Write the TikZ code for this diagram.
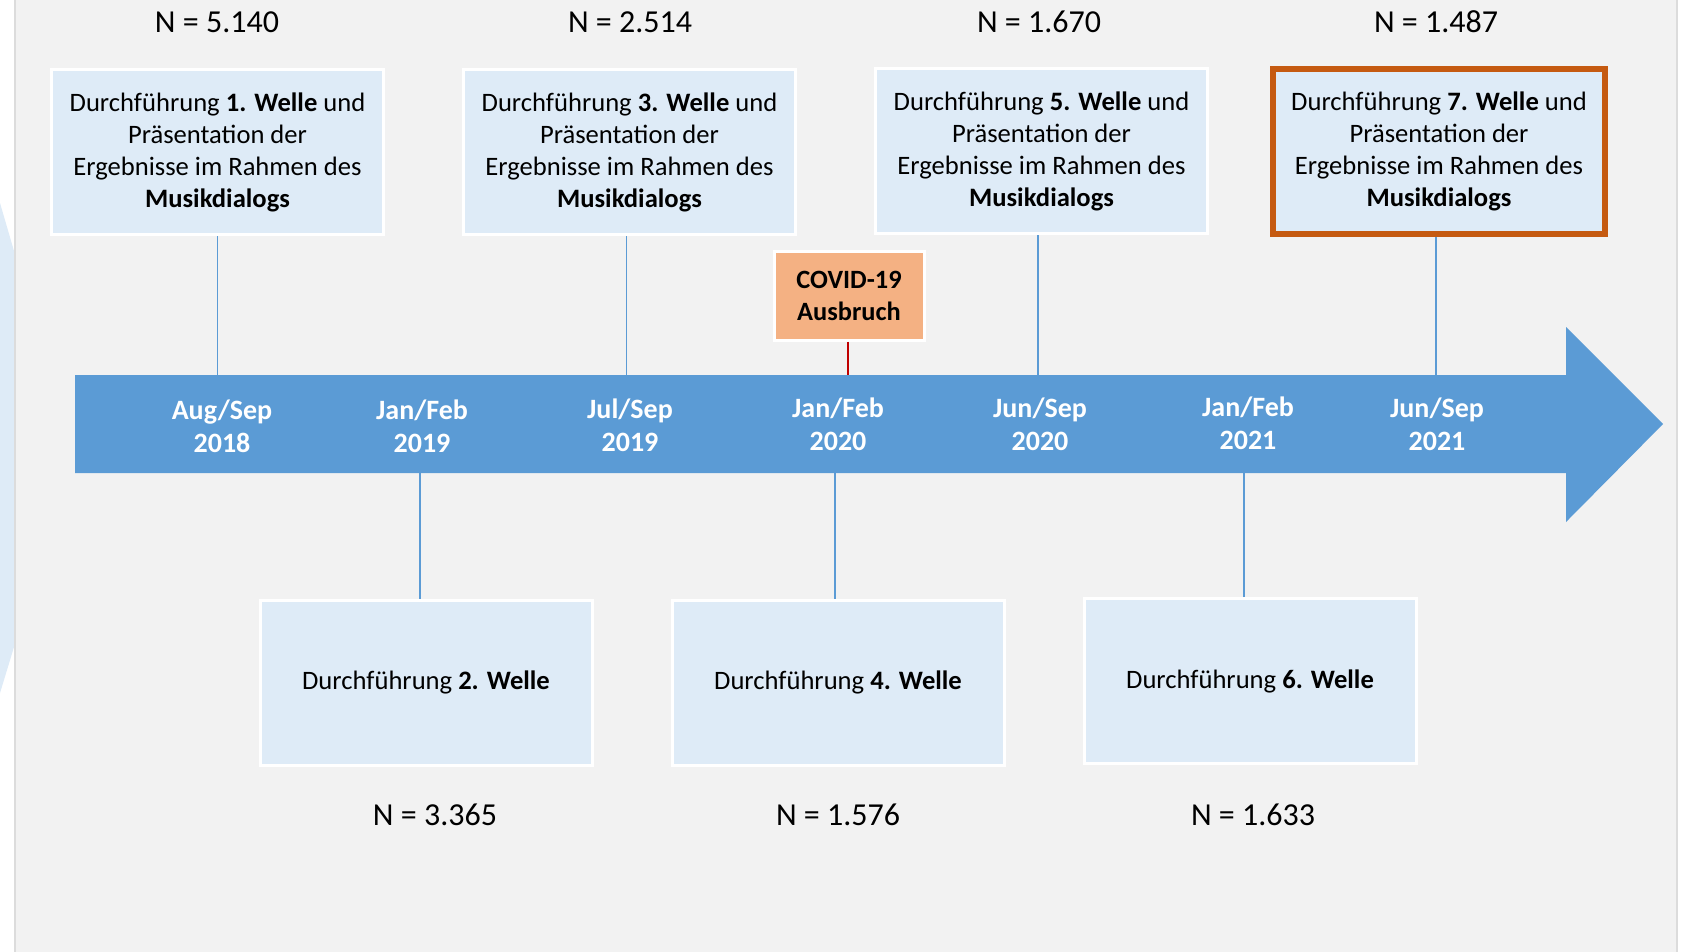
\documentclass[tikz,border=0pt]{standalone}
\usepackage{fontspec}
\setmainfont{Carlito}
\definecolor{panel}{HTML}{F2F2F2}
\definecolor{panelline}{HTML}{DCDCDC}
\definecolor{sideblue}{HTML}{DEEBF7}
\definecolor{arrowblue}{HTML}{5B9BD5}
\definecolor{boxblue}{HTML}{DEEBF7}
\definecolor{covid}{HTML}{F4B183}
\definecolor{highlight}{HTML}{C55A11}
\definecolor{covidline}{HTML}{C00000}
\begin{document}
\begin{tikzpicture}[x=1pt,y=-1pt,
  wave/.style={draw=white, line width=3pt, fill=boxblue, minimum width=332pt, minimum height=165pt,
    align=center, inner sep=0pt, font=\fontsize{26.6}{32}\selectfont},
  hiwave/.style={wave, draw=highlight, line width=6pt},
  covidbox/.style={draw=white, line width=3pt, fill=covid, minimum width=150pt, minimum height=89pt,
    align=center, inner sep=0pt, font=\fontsize{26.4}{32}\selectfont\bfseries},
  datelbl/.style={text=white, align=center, inner sep=0pt, font=\fontsize{28}{33}\selectfont\bfseries},
  nlbl/.style={inner sep=0pt, font=\fontsize{32}{36}\selectfont},
  conn/.style={draw=arrowblue, line width=1.5pt},
  redconn/.style={draw=covidline, line width=1.5pt}]
\useasboundingbox (0,0) rectangle (1688,951);
\fill[white] (0,0) rectangle (1688,951);
\fill[sideblue] (0,203) -- (14,251) -- (14,647) -- (0,693) -- cycle;
\filldraw[fill=panel, draw=panelline, line width=2pt] (15,-3) rectangle (1677,954);
% timeline arrow
\fill[arrowblue] (75,375) -- (1566,375) -- (1566,327) -- (1663,424) -- (1566,522) -- (1566,473) -- (75,473) -- cycle;
\coordinate (atop) at (0,375);
\coordinate (abot) at (0,473);
% top boxes
\node[wave] (b1) at (217.5,152) {Durchführung \textbf{1. Welle} und\\Präsentation der\\Ergebnisse im Rahmen des\\\textbf{Musikdialogs}};
\node[wave] (b3) at (629.5,152) {Durchführung \textbf{3. Welle} und\\Präsentation der\\Ergebnisse im Rahmen des\\\textbf{Musikdialogs}};
\node[wave] (b5) at (1041.5,151) {Durchführung \textbf{5. Welle} und\\Präsentation der\\Ergebnisse im Rahmen des\\\textbf{Musikdialogs}};
\node[hiwave] (b7) at (1439,151) {Durchführung \textbf{7. Welle} und\\Präsentation der\\Ergebnisse im Rahmen des\\\textbf{Musikdialogs}};
% bottom boxes
\node[wave] (b2) at (426,682.5) {Durchführung \textbf{2. Welle}};
\node[wave] (b4) at (838,682.5) {Durchführung \textbf{4. Welle}};
\node[wave] (b6) at (1250,681) {Durchführung \textbf{6. Welle}};
% covid
\node[covidbox] (cov) at (849,295.5) {COVID-19\\Ausbruch};
% N labels
\node[nlbl] (n1) at (217,22) {N = 5.140};
\node[nlbl] (n3) at (630,22) {N = 2.514};
\node[nlbl] (n5) at (1039,22) {N = 1.670};
\node[nlbl] (n7) at (1436,22) {N = 1.487};
\node[nlbl] (n2) at (435,815) {N = 3.365};
\node[nlbl] (n4) at (838,815) {N = 1.576};
\node[nlbl] (n6) at (1253,815) {N = 1.633};
% date labels
\node[datelbl] (d1) at (222,426) {Aug/Sep\\2018};
\node[datelbl] (d2) at (422,426) {Jan/Feb\\2019};
\node[datelbl] (d3) at (630,425) {Jul/Sep\\2019};
\node[datelbl] (d4) at (838,424) {Jan/Feb\\2020};
\node[datelbl] (d5) at (1040,424) {Jun/Sep\\2020};
\node[datelbl] (d6) at (1248,423) {Jan/Feb\\2021};
\node[datelbl] (d7) at (1437,424) {Jun/Sep\\2021};
% connectors
\draw[conn] (b1.south) -- (b1.south |- atop);
\draw[conn] ([xshift=-3pt]b3.south) -- ([xshift=-3pt]b3.south |- atop);
\draw[conn] ([xshift=-3.5pt]b5.south) -- ([xshift=-3.5pt]b5.south |- atop);
\draw[conn] ([xshift=-3pt]b7.south) -- ([xshift=-3pt]b7.south |- atop);
\draw[redconn] ([xshift=-1pt]cov.south) -- ([xshift=-1pt]cov.south |- atop);
\draw[conn] ([xshift=-6pt]b2.north) -- ([xshift=-6pt]b2.north |- abot);
\draw[conn] ([xshift=-3pt]b4.north) -- ([xshift=-3pt]b4.north |- abot);
\draw[conn] ([xshift=-6pt]b6.north) -- ([xshift=-6pt]b6.north |- abot);
\end{tikzpicture}
\end{document}
